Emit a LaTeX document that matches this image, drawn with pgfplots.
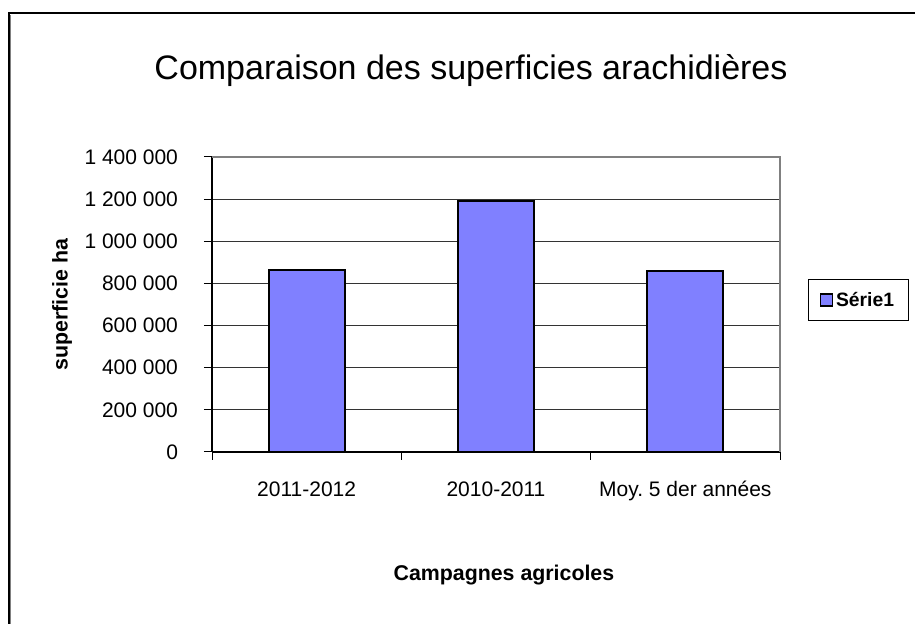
\documentclass[border=0pt]{standalone}
\usepackage{pgfplots}
\pgfplotsset{compat=1.18}
\usepackage{fontspec}
\setmainfont{Liberation Sans}
\definecolor{barblue}{HTML}{8080FF}
\frenchspacing
\begin{document}
\begin{tikzpicture}[x=0.75pt,y=0.75pt]
\useasboundingbox (0,0) rectangle (915,624);
% outer frame
\draw[black, line width=1.5pt] (8.5,0) -- (8.5,610.5) -- (915,610.5);
\draw[gray, line width=1pt] (10.5,0) -- (10.5,609);
\begin{axis}[
  at={(159pt,129pt)}, anchor=south west,
  scale only axis, width=426pt, height=221.25pt,
  xmin=-0.5, xmax=2.5, ymin=0, ymax=1400000,
  scaled y ticks=false,
  axis lines=left, axis line style={-, black, line width=1pt},
  xtick={0,1,2},
  xticklabels={2011-2012,2010-2011,Moy. 5 der années},
  major x tick style={draw=none},
  minor xtick={-0.5,0.5,1.5,2.5},
  minor tick length=6pt,
  ytick={0,200000,400000,600000,800000,1000000,1200000,1400000},
  yticklabels={0,200 000,400 000,600 000,800 000,1 000 000,1 200 000,1 400 000},
  major tick length=6pt,
  tick align=outside,
  tick style={black, line width=0.75pt},
  ymajorgrids,
  grid style={black!80, line width=0.75pt},
  ticklabel style={font=\fontsize{15.75pt}{18pt}\selectfont},
  yticklabel style={xshift=-16pt},
  xticklabel style={yshift=-12pt, text height=11.5pt, text depth=3pt},
  title={Comparaison des superficies arachidières},
  title style={at={(axis description cs:0.456,1.265)}, anchor=center, font=\fontsize{25.5pt}{30pt}\selectfont},
  xlabel={\textbf{Campagnes agricoles}},
  xlabel style={at={(axis description cs:0.514,-0.417)}, anchor=center, font=\fontsize{16pt}{19pt}\selectfont},
  ylabel={\textbf{superficie ha}},
  ylabel style={at={(axis description cs:-0.264,0.5)}, anchor=center, rotate=0, font=\fontsize{16pt}{19pt}\selectfont},
  legend style={at={(axis description cs:1.138,0.515)}, anchor=center, draw=black, line width=0.75pt, font=\bfseries\fontsize{14.5pt}{17pt}\selectfont, inner xsep=9pt, inner ysep=7pt},
  legend image code/.code={\draw[fill=barblue, draw=black, line width=1pt] (0pt,-4.5pt) rectangle (9pt,4.5pt);},
  clip=false,
]
\draw[gray, line width=1pt] (rel axis cs:0,1) -- (rel axis cs:1,1) -- (rel axis cs:1,0);
\addplot[ybar, bar width=0.4, fill=barblue, draw=black, line width=1.5pt] coordinates {(0,865000) (1,1192000) (2,859000)};
\addlegendentry{Série1}
\end{axis}
\end{tikzpicture}
\end{document}
